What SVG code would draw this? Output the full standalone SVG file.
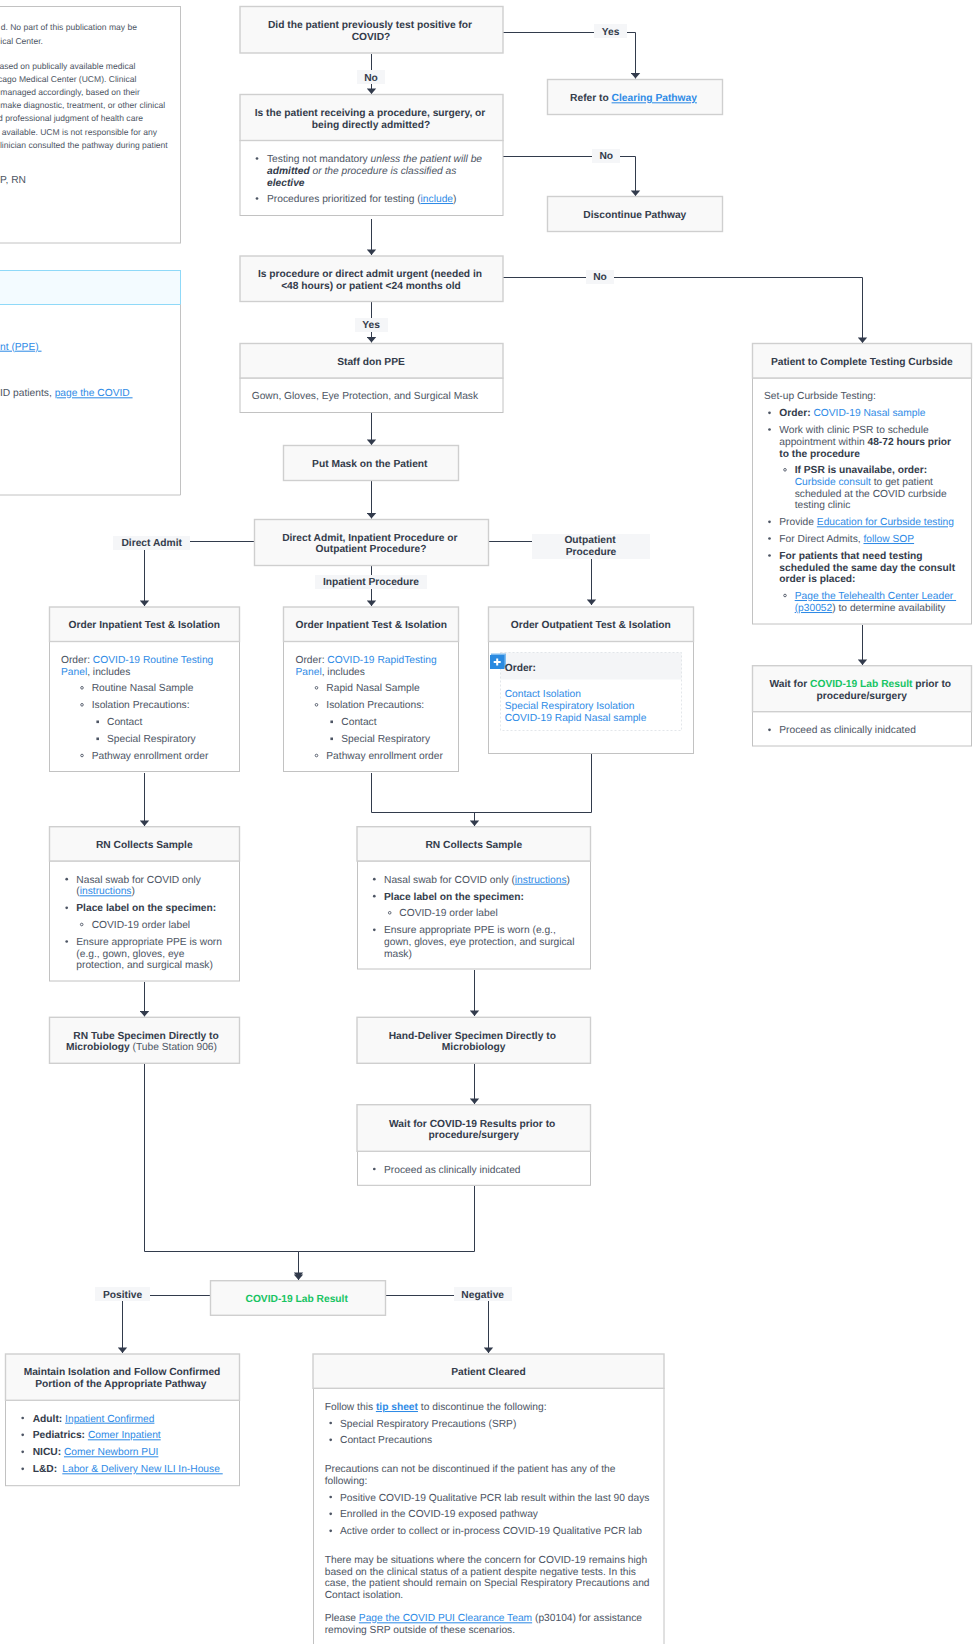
<svg xmlns="http://www.w3.org/2000/svg" width="973" height="1644" viewBox="0 0 973 1644">
<style>
text{font-family:"Liberation Sans",Arial,sans-serif;font-size:10.24px;fill:#4d5564;text-rendering:geometricPrecision}
.b,.b tspan.k{font-weight:bold;fill:#343c4b}
.k{font-weight:bold;fill:#343c4b}
.c{text-anchor:middle}
.e{text-anchor:end}
.s{font-size:8.55px}
.l{fill:#2f8be6}
.u{fill:#2f8be6;text-decoration:underline}
.g{fill:#17c463}
.i{font-style:italic}
.h{fill:#f9f9f9;stroke:#cfcfcf;stroke-width:1.4}
.p{fill:#fff;stroke:#c2c2c2;stroke-width:1}
.w{fill:none;stroke:#323b4c;stroke-width:1}
.lb{fill:#f5f6f8}
.d{fill:#4d5564}
.o{fill:none;stroke:#4d5564;stroke-width:.9}
</style>
<defs>
<marker id="a" markerUnits="userSpaceOnUse" markerWidth="10" markerHeight="10" viewBox="0 0 6 10" refX="5.5" refY="5" orient="auto"><path d="M0 .3L5.5 5L0 9.7z" fill="#323b4c"/></marker>
</defs>
<rect width="973" height="1644" fill="#fff"/>

<g id="connectors">
<path class="w" marker-end="url(#a)" d="M371.5 54V94"/>
<path class="w" marker-end="url(#a)" d="M371.5 219V255"/>
<path class="w" marker-end="url(#a)" d="M371.5 302V342.5"/>
<path class="w" marker-end="url(#a)" d="M371.5 413V445"/>
<path class="w" marker-end="url(#a)" d="M371.5 481V518.5"/>
<path class="w" marker-end="url(#a)" d="M503 32.5H635.5V78.5"/>
<path class="w" marker-end="url(#a)" d="M503 156.5H635.5V196"/>
<path class="w" marker-end="url(#a)" d="M503 277.5H862.5V343"/>
<path class="w" marker-end="url(#a)" d="M862.5 625V665"/>
<path class="w" marker-end="url(#a)" d="M254 541.5H144.5V606"/>
<path class="w" marker-end="url(#a)" d="M371.5 566V606"/>
<path class="w" marker-end="url(#a)" d="M489 541.5H591.5V605"/>
<path class="w" marker-end="url(#a)" d="M144.5 773V826"/>
<path class="w" d="M371.5 773V812.5H591.5V754"/>
<path class="w" marker-end="url(#a)" d="M474.5 812.5V826"/>
<path class="w" marker-end="url(#a)" d="M144.5 982V1016.5"/>
<path class="w" marker-end="url(#a)" d="M474.5 970V1016"/>
<path class="w" marker-end="url(#a)" d="M474.5 1064V1104"/>
<path class="w" marker-end="url(#a)" d="M144.5 1064V1251.5H298.5V1278"/>
<path class="w" marker-end="url(#a)" d="M474.5 1186V1251.5H298.5V1280"/>
<path class="w" marker-end="url(#a)" d="M210 1295.5H122.5V1353"/>
<path class="w" marker-end="url(#a)" d="M386 1295.5H488.5V1353"/>
</g>

<g id="edge-labels">
<rect class="lb" x="357" y="70" width="28" height="14"/><text class="b c" x="371" y="80.7">No</text>
<rect class="lb" x="594" y="24" width="33" height="14"/><text class="b c" x="610.5" y="34.7">Yes</text>
<rect class="lb" x="592" y="149" width="28" height="14"/><text class="b c" x="606.3" y="159">No</text>
<rect class="lb" x="586" y="270" width="28" height="14"/><text class="b c" x="600" y="280">No</text>
<rect class="lb" x="355" y="318" width="33" height="14"/><text class="b c" x="371" y="328.3">Yes</text>
<rect class="lb" x="113" y="536" width="77" height="14"/><text class="b c" x="151.7" y="546.3">Direct Admit</text>
<rect class="lb" x="315" y="575" width="112" height="14"/><text class="b c" x="371" y="585.3">Inpatient Procedure</text>
<rect class="lb" x="532" y="534" width="118" height="25"/><text class="b c" x="590" y="543.3">Outpatient</text><text class="b c" x="591" y="555">Procedure</text>
<rect class="lb" x="95" y="1287" width="55" height="14"/><text class="b c" x="122.5" y="1297.7">Positive</text>
<rect class="lb" x="454" y="1287" width="58" height="14"/><text class="b c" x="482.7" y="1297.7">Negative</text>
</g>

<g id="disclaimer">
<rect class="p" x="-20" y="6.5" width="200.5" height="236.5"/>
<text class="s e" x="137" y="30">d. No part of this publication may be</text>
<text class="s e" x="43" y="43.5">ical Center.</text>
<text class="s e" x="135.3" y="68.5">ased on publically available medical</text>
<text class="s e" x="136.3" y="81.5">cago Medical Center (UCM). Clinical</text>
<text class="s" x="0.3" y="95">managed accordingly, based on their</text>
<text class="s" x="0.3" y="108">make diagnostic, treatment, or other clinical</text>
<text class="s e" x="143" y="121">d professional judgment of health care</text>
<text class="s e" x="157" y="134.5">available. UCM is not responsible for any</text>
<text class="s e" x="167.7" y="147.5">linician consulted the pathway during patient</text>
<text x="0" y="183.3">P, RN</text>
</g>

<g id="ppe-panel">
<rect x="-20" y="270.5" width="200.5" height="34" fill="#f3fbff" stroke="#8fd9f8"/>
<path class="p" d="M180.5 304.5V495H-20" fill="none"/>
<text x="0" y="349.7"><tspan class="u">nt (PPE)&#160;</tspan></text>
<text x="0" y="396.3">ID patients, <tspan class="u">page the COVID&#160;</tspan></text>
</g>

<g id="n1">
<rect class="h" x="240" y="6.5" width="263" height="46.5"/>
<text class="b c" x="370" y="28">Did the patient previously test positive for</text>
<text class="b c" x="371" y="39.7">COVID?</text>
</g>
<g id="n2">
<rect class="p" x="240" y="140.5" width="263" height="75"/>
<rect class="h" x="240" y="94.5" width="263" height="46"/>
<text class="b c" x="370" y="116">Is the patient receiving a procedure, surgery, or</text>
<text class="b c" x="371" y="127.6">being directly admitted?</text>
<circle class="d" cx="257" cy="158.5" r="1.35"/>
<text x="267" y="162">Testing not mandatory <tspan class="i">unless the patient will be</tspan></text>
<text x="267" y="174"><tspan class="i k">admitted</tspan> <tspan class="i">or the procedure is classified as</tspan></text>
<text x="267" y="185.7"><tspan class="i k">elective</tspan></text>
<circle class="d" cx="257" cy="198.5" r="1.35"/>
<text x="267" y="202">Procedures prioritized for testing (<tspan class="u">include</tspan>)</text>
</g>
<g id="refer">
<rect class="h" x="547.5" y="79.5" width="175" height="35"/>
<text class="b c" x="633.5" y="101.3">Refer to <tspan class="u">Clearing Pathway</tspan></text>
</g>
<g id="discontinue">
<rect class="h" x="547.5" y="196.5" width="175" height="35"/>
<text class="b c" x="634.8" y="218.3">Discontinue Pathway</text>
</g>
<g id="n3">
<rect class="h" x="240" y="256" width="263" height="45.5"/>
<text class="b c" x="370" y="277">Is procedure or direct admit urgent (needed in</text>
<text class="b c" x="371" y="288.7">&lt;48 hours) or patient &lt;24 months old</text>
</g>
<g id="n4">
<rect class="p" x="240" y="378" width="263" height="34.5"/>
<rect class="h" x="240" y="343.5" width="263" height="34.5"/>
<text class="b c" x="371" y="365">Staff don PPE</text>
<text x="251.7" y="399.3">Gown, Gloves, Eye Protection, and Surgical Mask</text>
</g>
<g id="n5">
<rect class="h" x="283.5" y="445.5" width="175" height="35"/>
<text class="b c" x="369.8" y="467.3">Put Mask on the Patient</text>
</g>
<g id="n6">
<rect class="h" x="254.5" y="519.5" width="234" height="46"/>
<text class="b c" x="369.8" y="540.5">Direct Admit, Inpatient Procedure or</text>
<text class="b c" x="371" y="552.3">Outpatient Procedure?</text>
</g>
<g id="n7">
<rect class="p" x="49.5" y="641.5" width="190" height="130"/>
<rect class="h" x="49.5" y="607" width="190" height="34.5"/>
<text class="b c" x="144.3" y="628.3">Order Inpatient Test &amp; Isolation</text>
<text x="61" y="663">Order: <tspan class="l">COVID-19 Routine Testing</tspan></text>
<text x="61" y="674.7"><tspan class="l">Panel</tspan>, includes</text>
<circle class="o" cx="82" cy="687.8" r="1.3"/><text x="91.7" y="691.3">Routine Nasal Sample</text>
<circle class="o" cx="82" cy="704.8" r="1.3"/><text x="91.7" y="708.3">Isolation Precautions:</text>
<rect class="d" x="96.4" y="720.5" width="2.6" height="2.6"/><text x="107" y="725.3">Contact</text>
<rect class="d" x="96.4" y="737.5" width="2.6" height="2.6"/><text x="107" y="742.3">Special Respiratory</text>
<circle class="o" cx="82" cy="755.5" r="1.3"/><text x="91.7" y="759">Pathway enrollment order</text>
</g>
<g id="n8">
<rect class="p" x="283.5" y="641.5" width="175" height="130"/>
<rect class="h" x="283.5" y="607" width="175" height="34.5"/>
<text class="b c" x="371.3" y="628.3">Order Inpatient Test &amp; Isolation</text>
<text x="295.5" y="663">Order: <tspan class="l">COVID-19 RapidTesting</tspan></text>
<text x="295.5" y="674.7"><tspan class="l">Panel</tspan>, includes</text>
<circle class="o" cx="316.5" cy="687.8" r="1.3"/><text x="326.3" y="691.3">Rapid Nasal Sample</text>
<circle class="o" cx="316.5" cy="704.8" r="1.3"/><text x="326.3" y="708.3">Isolation Precautions:</text>
<rect class="d" x="330.4" y="720.5" width="2.6" height="2.6"/><text x="341.3" y="725.3">Contact</text>
<rect class="d" x="330.4" y="737.5" width="2.6" height="2.6"/><text x="341.3" y="742.3">Special Respiratory</text>
<circle class="o" cx="316.5" cy="755.5" r="1.3"/><text x="326.3" y="759">Pathway enrollment order</text>
</g>
<g id="n9">
<rect class="p" x="488.5" y="641.5" width="205" height="112"/>
<rect class="h" x="488.5" y="607" width="205" height="34.5"/>
<text class="b c" x="590.8" y="628.3">Order Outpatient Test &amp; Isolation</text>
<rect x="500.5" y="652.5" width="181" height="27" fill="#f4f5f7"/>
<rect x="500.5" y="652.5" width="181" height="78" fill="none" stroke="#dcdfe4" stroke-width=".8" stroke-dasharray="2 2"/>
<rect x="491" y="653.5" width="15" height="14" fill="#7fbcf0"/>
<rect x="490" y="655" width="14.5" height="14" fill="#2a8ae0"/>
<path d="M497.2 658.5v7M493.7 662h7" stroke="#fff" stroke-width="2"/>
<text class="k" x="504.7" y="671">Order:</text>
<text class="l" x="504.7" y="697.3">Contact Isolation</text>
<text class="l" x="504.7" y="709">Special Respiratory Isolation</text>
<text class="l" x="504.7" y="720.7">COVID-19 Rapid Nasal sample</text>
</g>
<g id="n10">
<rect class="p" x="752.5" y="378" width="219" height="246"/>
<rect class="h" x="752.5" y="343.5" width="219" height="34.5"/>
<text class="b c" x="861.8" y="365">Patient to Complete Testing Curbside</text>
<text x="764" y="399.3">Set-up Curbside Testing:</text>
<circle class="d" cx="769.5" cy="412.8" r="1.35"/><text x="779.3" y="416.3"><tspan class="k">Order:</tspan> <tspan class="l">COVID-19 Nasal sample</tspan></text>
<circle class="d" cx="769.5" cy="429.5" r="1.35"/><text x="779.3" y="433">Work with clinic PSR to schedule</text>
<text x="779.3" y="444.7">appointment within <tspan class="k">48-72 hours prior</tspan></text>
<text class="k" x="779.3" y="456.7">to the procedure</text>
<circle class="o" cx="785" cy="469.8" r="1.3"/><text class="k" x="794.7" y="473.3">If PSR is unavailabe, order:</text>
<text x="794.7" y="485"><tspan class="l">Curbside consult</tspan> to get patient</text>
<text x="794.7" y="496.7">scheduled at the COVID curbside</text>
<text x="794.7" y="508.3">testing clinic</text>
<circle class="d" cx="769.5" cy="521.8" r="1.35"/><text x="779.3" y="525.3">Provide <tspan class="u">Education for Curbside testing</tspan></text>
<circle class="d" cx="769.5" cy="538.5" r="1.35"/><text x="779.3" y="542">For Direct Admits, <tspan class="u">follow SOP</tspan></text>
<circle class="d" cx="769.5" cy="555.5" r="1.35"/><text class="k" x="779.3" y="559">For patients that need testing</text>
<text class="k" x="779.3" y="570.7">scheduled the same day the consult</text>
<text class="k" x="779.3" y="582.3">order is placed:</text>
<circle class="o" cx="785" cy="595.5" r="1.3"/><text x="794.7" y="599"><tspan class="u">Page the Telehealth Center Leader&#160;</tspan></text>
<text x="794.7" y="611"><tspan class="u">(p30052</tspan>) to determine availability</text>
</g>
<g id="n11">
<rect class="p" x="752.5" y="711.5" width="219" height="34.5"/>
<rect class="h" x="752.5" y="665.7" width="219" height="46"/>
<text class="b c" x="860.3" y="687">Wait for <tspan class="g">COVID-19 Lab Result</tspan> prior to</text>
<text class="b c" x="861.7" y="699">procedure/surgery</text>
<circle class="d" cx="769.5" cy="729.8" r="1.35"/><text x="779.3" y="733.3">Proceed as clinically inidcated</text>
</g>
<g id="n12">
<rect class="p" x="49.5" y="861" width="190" height="120"/>
<rect class="h" x="49.5" y="826.7" width="190" height="34.3"/>
<text class="b c" x="144.3" y="848.3">RN Collects Sample</text>
<circle class="d" cx="66.7" cy="879.2" r="1.35"/><text x="76.3" y="882.7">Nasal swab for COVID only</text>
<text x="76.3" y="894.3">(<tspan class="u">instructions</tspan>)</text>
<circle class="d" cx="66.7" cy="907.8" r="1.35"/><text class="k" x="76.3" y="911.3">Place label on the specimen:</text>
<circle class="o" cx="81.7" cy="924.5" r="1.3"/><text x="91.7" y="928">COVID-19 order label</text>
<circle class="d" cx="66.7" cy="941.5" r="1.35"/><text x="76.3" y="945">Ensure appropriate PPE is worn</text>
<text x="76.3" y="956.7">(e.g., gown, gloves, eye</text>
<text x="76.3" y="968.3">protection, and surgical mask)</text>
</g>
<g id="n13">
<rect class="h" x="49.5" y="1017.3" width="190" height="46"/>
<text class="k" x="73.3" y="1038.7">RN Tube Specimen Directly to</text>
<text x="66" y="1050.3"><tspan class="k">Microbiology</tspan> (Tube Station 906)</text>
</g>
<g id="n14">
<rect class="p" x="357.5" y="861" width="233" height="108"/>
<rect class="h" x="357" y="826.7" width="233.5" height="34.3"/>
<text class="b c" x="473.8" y="848.3">RN Collects Sample</text>
<circle class="d" cx="374.3" cy="879.2" r="1.35"/><text x="384" y="882.7">Nasal swab for COVID only (<tspan class="u">instructions</tspan>)</text>
<circle class="d" cx="374.3" cy="896.2" r="1.35"/><text class="k" x="384" y="899.7">Place label on the specimen:</text>
<circle class="o" cx="389.7" cy="912.8" r="1.3"/><text x="399.3" y="916.3">COVID-19 order label</text>
<circle class="d" cx="374.3" cy="929.8" r="1.35"/><text x="384" y="933.3">Ensure appropriate PPE is worn (e.g.,</text>
<text x="384" y="945">gown, gloves, eye protection, and surgical</text>
<text x="384" y="956.7">mask)</text>
</g>
<g id="n15">
<rect class="h" x="357" y="1017.3" width="233.5" height="46"/>
<text class="b c" x="472.3" y="1038.7">Hand-Deliver Specimen Directly to</text>
<text class="b c" x="473.7" y="1050.3">Microbiology</text>
</g>
<g id="n16">
<rect class="p" x="357.5" y="1151.3" width="233" height="34"/>
<rect class="h" x="357" y="1104.7" width="233.5" height="46.6"/>
<text class="b c" x="472.2" y="1126.7">Wait for COVID-19 Results prior to</text>
<text class="b c" x="473.7" y="1138.3">procedure/surgery</text>
<circle class="d" cx="374.3" cy="1169" r="1.35"/><text x="384" y="1172.7">Proceed as clinically inidcated</text>
</g>
<g id="n17">
<rect class="h" x="210.5" y="1280.7" width="175" height="34.6"/>
<text class="b c g" x="296.7" y="1302">COVID-19 Lab Result</text>
</g>
<g id="n18">
<rect class="p" x="5.5" y="1400.3" width="234" height="85.4"/>
<rect class="h" x="5.5" y="1354" width="234" height="46.3"/>
<text class="b c" x="122" y="1375.3">Maintain Isolation and Follow Confirmed</text>
<text class="b c" x="120.8" y="1387">Portion of the Appropriate Pathway</text>
<circle class="d" cx="22.7" cy="1418" r="1.35"/><text x="32.7" y="1421.7"><tspan class="k">Adult:</tspan> <tspan class="u">Inpatient Confirmed</tspan></text>
<circle class="d" cx="22.7" cy="1434.8" r="1.35"/><text x="32.7" y="1438.3"><tspan class="k">Pediatrics:</tspan> <tspan class="u">Comer Inpatient</tspan></text>
<circle class="d" cx="22.7" cy="1451.8" r="1.35"/><text x="32.7" y="1455.3"><tspan class="k">NICU:</tspan> <tspan class="u">Comer Newborn PUI</tspan></text>
<circle class="d" cx="22.7" cy="1468.8" r="1.35"/><text class="k" x="32.7" y="1472.3">L&amp;D:</text><text x="62.3" y="1472.3"><tspan class="u">Labor &amp; Delivery New ILI In-House&#160;</tspan></text>
</g>
<g id="n19">
<rect class="p" x="313.5" y="1388.3" width="350.5" height="280"/>
<rect class="h" x="313" y="1354" width="351" height="34.3"/>
<text class="b c" x="488.5" y="1375.3">Patient Cleared</text>
<text x="324.7" y="1410">Follow this <tspan class="u" font-weight="bold">tip sheet</tspan> to discontinue the following:</text>
<circle class="d" cx="330.7" cy="1423" r="1.35"/><text x="340" y="1426.7">Special Respiratory Precautions (SRP)</text>
<circle class="d" cx="330.7" cy="1439.8" r="1.35"/><text x="340" y="1443.3">Contact Precautions</text>
<text x="324.7" y="1472">Precautions can not be discontinued if the patient has any of the</text>
<text x="324.7" y="1483.7">following:</text>
<circle class="d" cx="330.7" cy="1497" r="1.35"/><text x="340" y="1500.7">Positive COVID-19 Qualitative PCR lab result within the last 90 days</text>
<circle class="d" cx="330.7" cy="1513.8" r="1.35"/><text x="340" y="1517.3">Enrolled in the COVID-19 exposed pathway</text>
<circle class="d" cx="330.7" cy="1530.8" r="1.35"/><text x="340" y="1534.3">Active order to collect or in-process COVID-19 Qualitative PCR lab</text>
<text x="324.7" y="1563">There may be situations where the concern for COVID-19 remains high</text>
<text x="324.7" y="1574.7">based on the clinical status of a patient despite negative tests. In this</text>
<text x="324.7" y="1586.3">case, the patient should remain on Special Respiratory Precautions and</text>
<text x="324.7" y="1598">Contact isolation.</text>
<text x="324.7" y="1621.3">Please <tspan class="u">Page the COVID PUI Clearance Team</tspan> (p30104) for assistance</text>
<text x="324.7" y="1633.3">removing SRP outside of these scenarios.</text>
</g>
</svg>
